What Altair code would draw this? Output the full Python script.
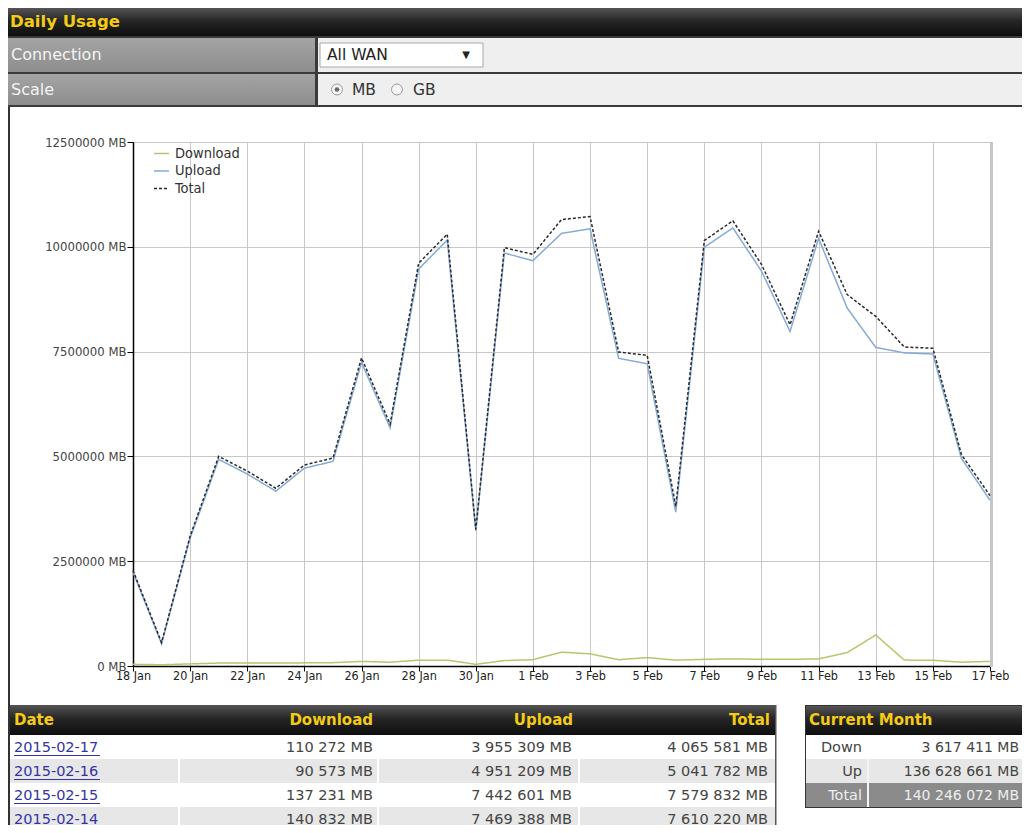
import altair as alt
import pandas as pd

# ---------------- data ----------------
days = pd.date_range("2015-01-18", "2015-02-17", freq="D")
date_strings = [d.strftime("%Y-%m-%dT00:00:00") for d in days]

download_mb = [40000, 30000, 50000, 70000, 70000, 70000, 75000, 80000, 110000, 90000,
               140000, 140000, 40000, 130000, 150000, 330000, 290000, 150000, 200000, 140000,
               160000, 170000, 160000, 160000, 170000, 320000, 740000, 140832, 137231, 90573, 110272]
upload_mb = [2240000, 530000, 3050000, 4930000, 4580000, 4170000, 4720000, 4880000, 7240000, 5680000,
             9470000, 10160000, 3220000, 9850000, 9670000, 10320000, 10430000, 7340000, 7210000, 3670000,
             9990000, 10450000, 9420000, 7980000, 10200000, 8540000, 7600000, 7469388, 7442601, 4951209, 3955309]
total_mb = [2280000, 560000, 3100000, 5000000, 4650000, 4240000, 4795000, 4960000, 7350000, 5770000,
            9610000, 10300000, 3260000, 9980000, 9820000, 10650000, 10720000, 7490000, 7410000, 3810000,
            10150000, 10620000, 9580000, 8140000, 10370000, 8860000, 8340000, 7610220, 7579832, 5041782, 4065581]

series_names = ["Download", "Upload", "Total"]
series_colors = ["#b9c46e", "#84aad8", "#2a2a2a"]
y_ticks = [0, 2500000, 5000000, 7500000, 10000000, 12500000]

table_dates = ["2015-02-17", "2015-02-16", "2015-02-15", "2015-02-14"]
table_down = [110272, 90573, 137231, 140832]
table_up = [3955309, 4951209, 7442601, 7469388]
table_total = [4065581, 5041782, 7579832, 7610220]
table_headers = ["Date", "Download", "Upload", "Total"]

month_labels = ["Down", "Up", "Total"]
month_values = [3617411, 136628661, 140246072]

# ---------------- layout helpers ----------------
W, H = 857, 524
OX, OY = 133, 142
SVG_W, SVG_H = 1014, 817
UI_FONT = "DejaVu Sans"
CH_FONT = "DejaVu Sans Condensed, DejaVu Sans"
YELLOW = "#f5cc14"


def px(x):
    return x - OX


def py(y):
    return y - OY


dummy = alt.Data(values=[{"k": 1}])

dark_grad = alt.Gradient(
    gradient="linear", x1=0, x2=0, y1=0, y2=1,
    stops=[alt.GradientStop(offset=0, color="#555555"),
           alt.GradientStop(offset=0.45, color="#262626"),
           alt.GradientStop(offset=1, color="#0e0e0e")])
label_grad = alt.Gradient(
    gradient="linear", x1=0, x2=0, y1=0, y2=1,
    stops=[alt.GradientStop(offset=0, color="#a4a4a4"),
           alt.GradientStop(offset=1, color="#8d8d8d")])


def rect(x1, y1, x2, y2, fill, stroke=None, sw=1):
    kw = {"fill": fill}
    if stroke:
        kw["stroke"] = stroke
        kw["strokeWidth"] = sw
    return alt.Chart(dummy).mark_rect(**kw).encode(
        x=alt.value(px(x1)), x2=alt.value(px(x2)),
        y=alt.value(py(y1)), y2=alt.value(py(y2)))


def label(x, y, s, size=15, color="#ffffff", bold=False, align="left", font=UI_FONT):
    return alt.Chart(dummy).mark_text(
        text=s, align=align, baseline="middle", fontSize=size, color=color,
        fontWeight="bold" if bold else "normal", font=font).encode(
        x=alt.value(px(x)), y=alt.value(py(y)))


def dot(x, y, size, fill, stroke=None):
    kw = {"fill": fill, "opacity": 1, "size": size}
    if stroke:
        kw["stroke"] = stroke
        kw["strokeWidth"] = 1
    return alt.Chart(dummy).mark_circle(**kw).encode(x=alt.value(px(x)), y=alt.value(py(y)))


def fmt(v):
    return f"{v:,}".replace(",", " ") + " MB"


deco = []
# top header
deco.append(rect(8, 8, SVG_W + 8, 36, dark_grad))
deco.append(label(10, 22, "Daily Usage", size=16.5, color=YELLOW, bold=True))
# connection / scale rows
deco.append(rect(8, 36, SVG_W + 8, 107, "#3a3a3a"))
deco.append(rect(8, 38, 315, 72, label_grad))
deco.append(rect(8, 74, 315, 105, label_grad))
deco.append(rect(318, 38, SVG_W + 8, 72, "#efefef"))
deco.append(rect(318, 74, SVG_W + 8, 105, "#efefef"))
deco.append(label(11, 55, "Connection", size=16, color="#f4f4f4"))
deco.append(label(11, 89.5, "Scale", size=16, color="#f4f4f4"))
deco.append(rect(320, 43, 483, 67, "#ffffff", stroke="#a8a8a8"))
deco.append(label(327, 55, "All WAN", size=15.5, color="#222222"))
deco.append(label(466, 55, "▼", size=10, color="#222222", align="center"))
deco.append(dot(337, 89.5, 120, "#f6f6f6", stroke="#9a9a9a"))
deco.append(dot(337, 89.5, 22, "#6a6a6a"))
deco.append(label(352, 90, "MB", size=15.5, color="#333333"))
deco.append(dot(397, 89.5, 120, "#f6f6f6", stroke="#9a9a9a"))
deco.append(label(413, 90, "GB", size=15.5, color="#333333"))
# plot right shadow
deco.append(rect(990, 142, 993, 667, "#c6c6c6"))

# daily table frame
row_h = 24.0
tbl_top = 735
deco.append(rect(8, 705, 776, tbl_top, dark_grad))
for i in range(4):
    y1 = tbl_top + i * row_h
    deco.append(rect(8, y1, 776, y1 + row_h, "#ffffff" if i % 2 == 0 else "#e7e7e7"))
for xs in (178, 377, 578):
    for i in (1, 3):
        y1 = tbl_top + i * row_h
        deco.append(rect(xs, y1, xs + 2, y1 + row_h, "#ffffff"))
deco.append(rect(775, 705, 776.5, 840, "#555555"))
deco.append(label(14, 720, table_headers[0], size=15, color=YELLOW, bold=True))
deco.append(label(373, 720, table_headers[1], size=15, color=YELLOW, bold=True, align="right"))
deco.append(label(573, 720, table_headers[2], size=15, color=YELLOW, bold=True, align="right"))
deco.append(label(770, 720, table_headers[3], size=15, color=YELLOW, bold=True, align="right"))

# current month frame
deco.append(rect(805, 705, SVG_W + 8, 808, "#333333"))
deco.append(rect(806, 706, SVG_W + 8, tbl_top, dark_grad))
deco.append(rect(806, tbl_top, SVG_W + 8, tbl_top + row_h, "#ffffff"))
deco.append(rect(806, tbl_top + row_h, SVG_W + 8, tbl_top + 2 * row_h, "#e7e7e7"))
deco.append(rect(806, tbl_top + 2 * row_h, SVG_W + 8, 807, "#8b8b8b"))
deco.append(rect(867, tbl_top + row_h, 869, 807, "#f4f4f4"))
deco.append(label(809, 720, "Current Month", size=15, color=YELLOW, bold=True))
# panel left border
deco.append(rect(8, 107, 10, 840, "#333333"))

# ---------------- line chart ----------------
rows = []
for name, vals in zip(series_names, [download_mb, upload_mb, total_mb]):
    for d, v in zip(date_strings, vals):
        rows.append({"date": d, "series": name, "value": v})
line_df = pd.DataFrame(rows)

x_tick_values = [alt.DateTime(year=d.year, month=d.month, date=d.day) for d in days[::2]]

legend_kw = dict(
    title=None, orient="none", legendX=20, legendY=3, padding=0,
    labelFont=CH_FONT, labelFontSize=14.5, labelColor="#333333", labelOffset=5,
    symbolType="stroke", symbolSize=225, symbolStrokeWidth=1.6, rowPadding=2.5)

lines = alt.Chart(line_df).mark_line(strokeWidth=1.5).encode(
    x=alt.X("date:T",
            scale=alt.Scale(domain=[alt.DateTime(year=2015, month=1, date=18),
                                    alt.DateTime(year=2015, month=2, date=17)]),
            axis=alt.Axis(values=x_tick_values, format="%-d %b", title=None,
                          labelFlush=False, labelOverlap=False, labelFont=CH_FONT,
                          labelFontSize=12.5, labelColor="#222222", labelPadding=-2,
                          tickSize=5, tickColor="#000000", domainColor="#000000",
                          domainWidth=1.5, gridColor="#c8c8c8")),
    y=alt.Y("value:Q", scale=alt.Scale(domain=[0, 12500000], nice=False),
            axis=alt.Axis(values=y_ticks, labelExpr="datum.value + ' MB'", title=None,
                          labelFont=CH_FONT, labelFontSize=13, labelColor="#444444",
                          labelPadding=1, tickSize=6, tickColor="#000000",
                          domainColor="#000000", domainWidth=1.5, gridColor="#c8c8c8")),
    color=alt.Color("series:N", scale=alt.Scale(domain=series_names, range=series_colors),
                    legend=alt.Legend(**legend_kw)),
    strokeDash=alt.StrokeDash("series:N",
                              scale=alt.Scale(domain=series_names, range=[[1, 0], [1, 0], [3, 2]]),
                              legend=alt.Legend(**legend_kw)),
)

# ---------------- table texts ----------------
daily_df = pd.DataFrame({
    "row": list(range(len(table_dates))),
    "date": table_dates,
    "down": [fmt(v) for v in table_down],
    "up": [fmt(v) for v in table_up],
    "tot": [fmt(v) for v in table_total],
})
month_df = pd.DataFrame({
    "row": list(range(len(month_labels))),
    "lab": month_labels,
    "val": [fmt(v) for v in month_values],
    "col": ["#444444", "#444444", "#eeeeee"],
})

first_c = tbl_top + row_h / 2 + 0.5


def row_y(n, shift=0.0):
    return alt.Y("row:Q", axis=None,
                 scale=alt.Scale(domain=[0, n - 1],
                                 range=[py(first_c + shift), py(first_c + (n - 1) * row_h + shift)]))


def table_text(df, field, x, align, color=None, size=14.5):
    kw = dict(align=align, baseline="middle", font=UI_FONT, fontSize=size)
    enc = dict(x=alt.value(px(x)), y=row_y(len(df)), text=f"{field}:N")
    if color is None:
        enc["color"] = alt.Color("col:N", scale=None)
    else:
        kw["color"] = color
    return alt.Chart(df).mark_text(**kw).encode(**enc)


texts = [
    table_text(daily_df, "date", 14, "left", color="#3434a6"),
    alt.Chart(daily_df).mark_rule(color="#3434a6", strokeWidth=1).encode(
        x=alt.value(px(14)), x2=alt.value(px(100)), y=row_y(len(daily_df), shift=8)),
    table_text(daily_df, "down", 373, "right", color="#444444"),
    table_text(daily_df, "up", 572, "right", color="#444444"),
    table_text(daily_df, "tot", 768, "right", color="#444444"),
    table_text(month_df, "lab", 862, "right"),
    table_text(month_df, "val", 1019, "right", size=14),
]

chart = alt.layer(*deco, lines, *texts).resolve_scale(y="independent").properties(
    width=W, height=H,
    padding={"left": OX - 8, "top": OY - 8, "right": SVG_W - (OX - 8) - W,
             "bottom": SVG_H - (OY - 8) - H},
    autosize=alt.AutoSizeParams(type="none"),
    background="#ffffff",
).configure_view(stroke="#cccccc")

chart.save("out.html", embed_options={"renderer": "svg", "actions": False})
